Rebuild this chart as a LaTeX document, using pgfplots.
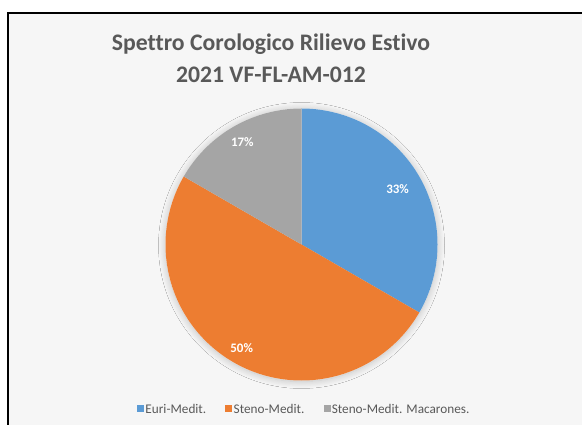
\documentclass[border=0pt]{standalone}
\usepackage{pgfplots}
\pgfplotsset{compat=1.18}
\usepackage{pgfplotstable}
\usetikzlibrary{shadows.blur}
\usepackage{fontspec}
\setmainfont{Carlito}[Ligatures=NoCommon]
\definecolor{cblue}{HTML}{5B9BD5}
\definecolor{corange}{HTML}{ED7D31}
\definecolor{cgray}{HTML}{A5A5A5}
\definecolor{ctext}{HTML}{595959}
\definecolor{cbg}{HTML}{F6F6F6}

% numero di specie per elemento corologico
\pgfplotstableread{
valore
2
3
1
}\spettro

\begin{document}
\begin{tikzpicture}
\pgfplotstablegetelem{0}{valore}\of\spettro \let\va\pgfplotsretval
\pgfplotstablegetelem{1}{valore}\of\spettro \let\vb\pgfplotsretval
\pgfplotstablegetelem{2}{valore}\of\spettro \let\vc\pgfplotsretval
\pgfmathsetmacro{\tot}{\va+\vb+\vc}
\pgfmathsetmacro{\aA}{90}
\pgfmathsetmacro{\aB}{\aA-360*\va/\tot}
\pgfmathsetmacro{\aC}{\aB-360*\vb/\tot}
\pgfmathsetmacro{\aD}{\aC-360*\vc/\tot}
\pgfmathsetmacro{\mA}{(\aA+\aB)/2}
\pgfmathsetmacro{\mB}{(\aB+\aC)/2}
\pgfmathsetmacro{\mC}{(\aC+\aD)/2}
\pgfmathparse{int(round(100*\va/\tot))}\let\pA\pgfmathresult
\pgfmathparse{int(round(100*\vb/\tot))}\let\pB\pgfmathresult
\pgfmathparse{int(round(100*\vc/\tot))}\let\pC\pgfmathresult

\useasboundingbox (0,0) rectangle (582bp,425bp);
\fill[cbg] (8bp,0) rectangle (582bp,411.7bp);
\draw[line width=2bp, black] (8bp,0) -- (8bp,411.7bp) -- (582bp,411.7bp);

\node[anchor=base, font=\bfseries\fontsize{23.8}{28}\selectfont, text=ctext] at (271bp,374bp) {Spettro Corologico Rilievo Estivo};
\node[anchor=base, font=\bfseries\fontsize{23.8}{28}\selectfont, text=ctext] at (271bp,342.7bp) {2021 VF-FL-AM-012};

% soft shadow behind the pie
\fill[cbg, blur shadow={shadow xshift=0bp, shadow yshift=-1bp, shadow blur radius=7bp, shadow opacity=22, shadow blur steps=12}] (301.5bp,180.5bp) circle (136bp);

\begin{axis}[
  at={(301.5bp,180.5bp)}, anchor=center,
  scale only axis, width=272bp, height=272bp,
  xmin=-1, xmax=1, ymin=-1, ymax=1,
  hide axis, clip=false,
  legend columns=3,
  legend cell align=left,
  legend image code/.code={\fill[#1] (0bp,-3bp) rectangle (7bp,4bp);},
  legend style={at={(0.509,-0.106)}, anchor=center, draw=none, fill=none,
    font=\fontsize{13.3}{15}\selectfont, text=ctext,
    nodes={inner xsep=1.2bp, inner ysep=1bp},
    /tikz/every even column/.append style={column sep=18bp}},
]
\addplot[draw=none, fill=cblue, domain=\aB:\aA, samples=121] ({cos(x)},{sin(x)}) -- (axis cs:0,0) -- cycle;
\addlegendentry{Euri-Medit.}
\addplot[draw=none, fill=corange, domain=\aC:\aB, samples=181] ({cos(x)},{sin(x)}) -- (axis cs:0,0) -- cycle;
\addlegendentry{Steno-Medit.}
\addplot[draw=none, fill=cgray, domain=\aD:\aC, samples=61] ({cos(x)},{sin(x)}) -- (axis cs:0,0) -- cycle;
\addlegendentry{Steno-Medit. Macarones.}

\node[font=\bfseries\fontsize{13}{15}\selectfont, text=white] at (axis cs:{0.816*cos(\mA)},{0.816*sin(\mA)}) {\pA\%};
\node[font=\bfseries\fontsize{13}{15}\selectfont, text=white] at (axis cs:{0.88*cos(\mB)},{0.88*sin(\mB)}) {\pB\%};
\node[font=\bfseries\fontsize{13}{15}\selectfont, text=white] at (axis cs:{0.87*cos(\mC)},{0.87*sin(\mC)}) {\pC\%};
\end{axis}
\end{tikzpicture}
\end{document}
